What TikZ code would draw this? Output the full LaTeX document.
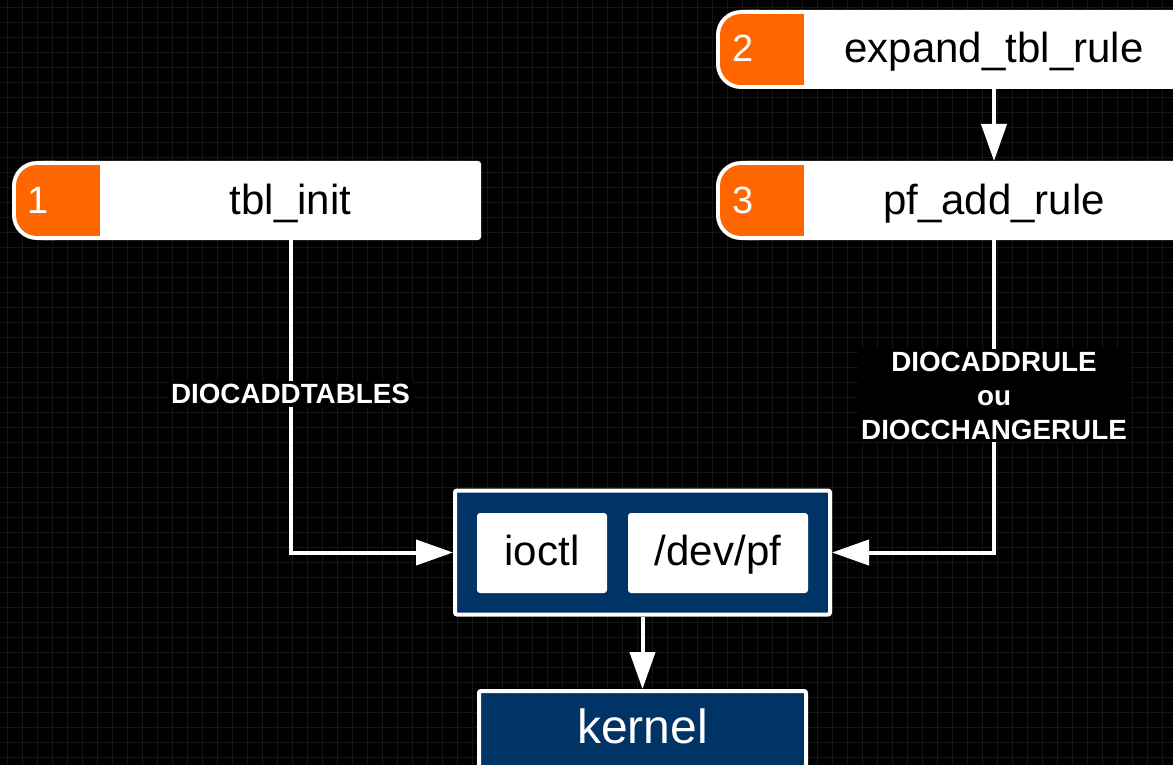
\documentclass[tikz,border=0pt]{standalone}
\usepackage{fontspec}
\setmainfont{Liberation Sans}
\usetikzlibrary{arrows.meta}
\definecolor{org}{HTML}{FF6600}
\definecolor{navy}{HTML}{003366}
\definecolor{gridc}{HTML}{151515}
\newcommand\procbox[1]{%
  \begin{scope}[shift={#1}]
    \fill[white, rounded corners=3pt] (28,0) rectangle (469,79);
    \fill[white, rounded corners=25pt] (0,0) rectangle (68,79);
    \fill[org, rounded corners=21pt] (4,4) rectangle (48,75);
    \fill[org] (28,4) rectangle (88,75);
  \end{scope}}
\begin{document}
\begin{tikzpicture}[x=1pt,y=-1pt,
  arr/.style={draw=white, line width=4pt, -{Triangle[length=37pt,width=25pt]}},
  procnode/.style={inner sep=0pt, outer sep=0pt, minimum width=469pt, minimum height=79pt},
  txt/.style={text=black, anchor=base, inner sep=0pt, font=\fontsize{42}{50}\selectfont},
  wtxt/.style={text=white, anchor=base, inner sep=0pt, font=\fontsize{48}{56}\selectfont},
  num/.style={text=white, anchor=base, inner sep=0pt, font=\fontsize{38}{45}\selectfont},
  lab/.style={fill=black, text=white, font=\bfseries\fontsize{27.8}{34}\selectfont, align=center, inner sep=3pt},
  bluebox/.style={fill=navy, draw=white, line width=4pt, rounded corners=2pt},
  wbox/.style={fill=white, rounded corners=3pt, minimum height=80pt, inner sep=0pt}
]
\useasboundingbox (0,0) rectangle (1173,765);
\fill[black] (0,0) rectangle (1173,765);
\clip (0,0) rectangle (1173,765);
\foreach \x in {7.5,22.5,...,1173} \draw[gridc, line width=1pt] (\x,0) -- (\x,765);
\foreach \y in {7.5,22.5,...,765} \draw[gridc, line width=1pt] (0,\y) -- (1173,\y);

% process boxes
\procbox{(12,161)}
\node[procnode] (b1) at (246.5,200.5) {};
\node[num] (n1) at (38,213) {1};
\node[txt] (t1) at (290.5,214) {tbl\_init};

\procbox{(716,10)}
\node[procnode] (b2) at (950.5,49.5) {};
\node[num] (n2) at (743,62) {2};
\node[txt] (t2) at (994,63) {expand\_tbl\_rule};

\procbox{(716,161)}
\node[procnode] (b3) at (950.5,200.5) {};
\node[num] (n3) at (743,213) {3};
\node[txt] (t3) at (994,214) {pf\_add\_rule};

% device box
\node[bluebox, minimum width=375pt, minimum height=124pt] (dev) at (642.5,552.5) {};
\node[wbox, minimum width=130pt] (io) at (542,553) {};
\node[wbox, minimum width=180pt] (pf) at (718,553) {};
\node[txt] (tio) at (542,565) {ioctl};
\node[txt] (tpf) at (718,565) {/dev/pf};

% kernel
\node[bluebox, minimum width=327pt, minimum height=100pt] (kern) at (642.5,741) {};
\node[wtxt] (tk) at (642.5,743) {kernel};

% connectors
\draw[arr] (t2 |- b2.south) -- (t3 |- b3.north);
\draw[arr] (t1 |- b1.south) |- node[lab, pos=0.2464] (l1) {DIOCADDTABLES} (dev.west);
\draw[arr] (t3 |- b3.south) |- node[lab, pos=0.249] (l2) {DIOCADDRULE\\ou\\DIOCCHANGERULE} (dev.east);
\draw[arr] (dev.south) -- (kern.north);
\end{tikzpicture}
\end{document}
